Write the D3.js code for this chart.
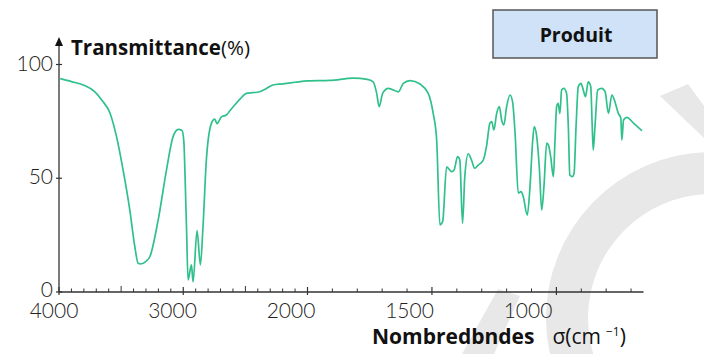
<!DOCTYPE html>
<html>
<head>
<meta charset="utf-8">
<script src="https://cdn.jsdelivr.net/npm/d3@7"></script>
<style>
  body { margin: 0; background: #fff; }
  svg { display: block; font-family: Lato, "Open Sans", sans-serif; }
  .title { font-family: "Open Sans", Lato, sans-serif; }
</style>
</head>
<body>
<svg id="chart" width="704" height="354"></svg>
<script>
// spectrum (wavenumber in cm-1, transmittance in %)
var sigma = [3990, 3900, 3805, 3711, 3650, 3590, 3537, 3484, 3430, 3390, 3363, 3345, 3300, 3269, 3202, 3135, 3082, 3040, 3010, 2995, 2985, 2974, 2961, 2934, 2921, 2889, 2862, 2841, 2814, 2774, 2747, 2728, 2693, 2653, 2620, 2586, 2540, 2492, 2440, 2386, 2330, 2279, 2200, 2100, 2000, 1910, 1816, 1760, 1736, 1722, 1712, 1698, 1675, 1635, 1615, 1588, 1548, 1515, 1495, 1481, 1468, 1457, 1441, 1421, 1411, 1397, 1388, 1377, 1368, 1354, 1341, 1328, 1314, 1294, 1281, 1267, 1260, 1251, 1240, 1229, 1220, 1211, 1200, 1186, 1176, 1166, 1153, 1142, 1133, 1117, 1106, 1095, 1089, 1079, 1068, 1059, 1050, 1039, 1032, 1023, 1012, 1006, 999, 993, 986, 979, 970, 959, 952, 946, 936, 929, 921, 912, 901, 892, 883, 872, 862, 856, 852, 845, 834, 818, 804, 791, 777, 767, 751, 741, 737, 730, 717, 690, 656];
var trans = [93.8, 92.5, 91, 88, 84, 78.7, 68.3, 53.6, 36, 20, 12.6, 12.3, 13.5, 15.5, 31.6, 53.6, 68.3, 71.5, 71, 66, 50, 28.7, 5.3, 11.9, 4.5, 27, 11.9, 28.7, 58, 74, 76, 74, 77, 77.8, 80, 82.2, 85, 87.3, 87.6, 88, 89.5, 91, 91.5, 92.2, 92.8, 93, 94, 93.5, 92.4, 87.3, 81.5, 87.3, 89.5, 88, 91.7, 92.9, 91.4, 87.3, 78.5, 66.8, 29.5, 30.9, 55, 52.9, 53.6, 59.5, 58, 30.2, 50.7, 60.7, 58, 54.4, 55.8, 58, 63.9, 74.2, 74.9, 71.2, 78.5, 81.5, 75.6, 73.4, 81.5, 86.6, 83.6, 69.8, 43.4, 44.1, 41.9, 33.8, 46.3, 66.8, 72.7, 68.3, 53.6, 36, 46.3, 65.4, 64.6, 59.5, 50.7, 65.4, 81.5, 82.9, 78.5, 88.8, 89.5, 87.3, 72.7, 51.4, 50.7, 52.2, 72.7, 90.3, 91.7, 88.8, 85.9, 92.4, 90.3, 72.7, 62.4, 72.7, 88.8, 89.5, 88, 78.5, 86.6, 84.4, 78.5, 76.3, 66.8, 75.6, 76.8, 74.2, 70.9];

var xMajor = [4000, 3000, 2000, 1500, 1000];
var xMid = [3500, 2500];
var xTickLabels = ["4000", "3000", "2000", "1500", "1000"];
var yTicks = [0, 50, 100];

var svg = d3.select("#chart");

// faint watermark in the background
var wm = svg.append("g").attr("fill", "#e8e8e8");
wm.append("path")
  .attr("transform", "translate(712,318)")
  .attr("d", d3.arc()({innerRadius: 124, outerRadius: 166, startAngle: -Math.PI, endAngle: -0.02}));
wm.append("path").attr("d", "M660,96 L688,84 L704,106 L704,138 Z");
wm.append("path").attr("d", "M462,354 L498,289 L520,296 L494,354 Z");

// split wavenumber axis: 1000 per major step above 2000, 500 below
var x = d3.scaleLinear()
  .domain([4000, 2000, 650])
  .range([59, 307.5, 643.5]);
var y = d3.scaleLinear()
  .domain([0, 100])
  .range([292, 64.5]);
// tick labels sit on their own even spacing in the picture
var xl = d3.scalePoint()
  .domain(xTickLabels)
  .range([54, 528]);

var axisCol = "#333";

// curve
var pts = sigma.map(function(s, i) { return [s, trans[i]]; });
svg.append("path")
  .datum(pts)
  .attr("fill", "none")
  .attr("stroke", "#30c08c")
  .attr("stroke-width", 1.7)
  .attr("stroke-linejoin", "round")
  .attr("d", d3.line()
    .x(function(d) { return x(d[0]); })
    .y(function(d) { return y(d[1]); })
    .curve(d3.curveMonotoneX));

// x axis
var gx = svg.append("g").attr("stroke", axisCol);
gx.append("line")
  .attr("x1", x(4000)).attr("x2", x(650))
  .attr("y1", y(0)).attr("y2", y(0))
  .attr("stroke-width", 1.3);
var minor = d3.range(3900, 650, -100).filter(function(v) {
  return xMajor.indexOf(v) < 0 && xMid.indexOf(v) < 0;
});
gx.selectAll(".mn").data(minor).enter().append("line")
  .attr("x1", function(d) { return x(d); }).attr("x2", function(d) { return x(d); })
  .attr("y1", y(0) - 3.5).attr("y2", y(0))
  .attr("stroke-width", 1);
gx.selectAll(".md").data(xMid).enter().append("line")
  .attr("x1", function(d) { return x(d); }).attr("x2", function(d) { return x(d); })
  .attr("y1", y(0) - 6).attr("y2", y(0))
  .attr("stroke-width", 1);
gx.selectAll(".mj").data(xMajor).enter().append("line")
  .attr("x1", function(d) { return x(d); }).attr("x2", function(d) { return x(d); })
  .attr("y1", y(0) - 5).attr("y2", y(0) + 3)
  .attr("stroke-width", 1.2);

svg.selectAll(".xl").data(xTickLabels).enter().append("text")
  .attr("x", function(d) { return xl(d); })
  .attr("y", 318)
  .attr("text-anchor", "middle")
  .attr("font-size", 21)
  .attr("font-weight", 300)
  .attr("fill", "#222")
  .text(function(d) { return d; });

// y axis with arrow
var gy = svg.append("g");
gy.append("line")
  .attr("x1", x(4000)).attr("x2", x(4000))
  .attr("y1", y(0)).attr("y2", 44)
  .attr("stroke", axisCol).attr("stroke-width", 1.3);
gy.append("path")
  .attr("d", d3.line()([[x(4000), 37], [x(4000) - 4, 46], [x(4000) + 4, 46]]) + "Z")
  .attr("fill", "#111");
gy.selectAll(".yt").data(yTicks).enter().append("line")
  .attr("x1", x(4000) - 3).attr("x2", x(4000) + 3)
  .attr("y1", function(d) { return y(d); }).attr("y2", function(d) { return y(d); })
  .attr("stroke", axisCol).attr("stroke-width", 1.2);
gy.selectAll(".yl").data(yTicks).enter().append("text")
  .attr("x", 53)
  .attr("y", function(d) { return y(d) + (d === 0 ? 5 : 6); })
  .attr("text-anchor", "end")
  .attr("font-size", 21)
  .attr("font-weight", 300)
  .attr("fill", "#222")
  .text(function(d) { return d; });

// axis titles
var yt = svg.append("text").attr("class", "title")
  .attr("x", 71).attr("y", 55).attr("font-size", 20.5).attr("fill", "#111");
yt.append("tspan").attr("font-weight", 700).text("Transmittance");
yt.append("tspan").attr("font-weight", 400).text("(%)");

var xt = svg.append("text").attr("class", "title")
  .attr("x", 372).attr("y", 344).attr("font-size", 21).attr("fill", "#111");
xt.append("tspan").attr("font-weight", 700).text("Nombredbndes");
xt.append("tspan").attr("dx", 18).attr("font-weight", 400).text("σ(cm");
xt.append("tspan").attr("dx", 5).attr("dy", -8).attr("font-size", 12).text("−1");
xt.append("tspan").attr("dy", 8).text(")");

// legend box
svg.append("rect")
  .attr("x", 493).attr("y", 10).attr("width", 164).attr("height", 48)
  .attr("fill", "#cfe2f7").attr("stroke", "#555").attr("stroke-width", 1.5);
svg.append("text").attr("class", "title")
  .attr("x", 576).attr("y", 42)
  .attr("text-anchor", "middle")
  .attr("font-size", 19.5).attr("font-weight", 700).attr("fill", "#111")
  .text("Produit");
</script>
</body>
</html>
